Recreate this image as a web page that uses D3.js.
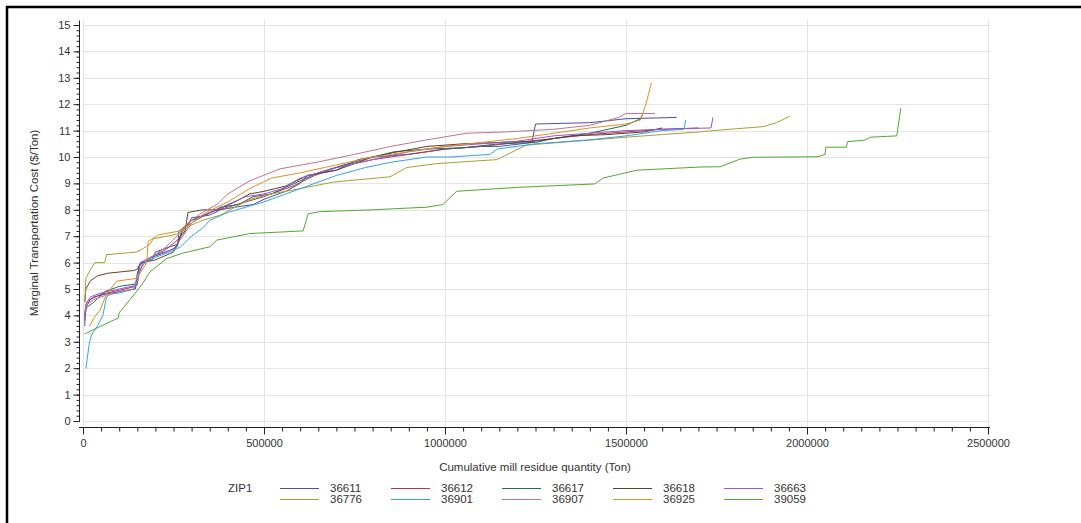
<!DOCTYPE html>
<html>
<head>
<meta charset="utf-8">
<script src="https://cdn.jsdelivr.net/npm/d3@7"></script>
<style>
  body { margin: 0; background: #fff; }
  svg text { font-family: "Liberation Sans", Arial, sans-serif; }
</style>
</head>
<body>
<div id="chart"></div>
<script>
// chart data
var zips = ["36611", "36612", "36617", "36618", "36663", "36776", "36901", "36907", "36925", "39059"];
var zipColors = ["#4a4fa8", "#ac3c48", "#1a7068", "#5e4423", "#a050dc", "#a9a030", "#35a0f0", "#c07395", "#e09020", "#52a835"];

var s36611 = [[5000,3.6],[6000,4.2],[10000,4.5],[30000,4.7],[60000,4.8],[100000,4.9],[145000,5.0],[150000,5.6],[160000,6.0],[190000,6.1],[200000,6.4],[240000,6.6],[262000,6.7],[265000,7.2],[290000,7.4],[300000,7.7],[350000,7.8],[380000,8.0],[420000,8.1],[470000,8.2],[500000,8.4],[560000,8.7],[600000,9.0],[620000,9.3],[700000,9.5],[760000,9.9],[800000,10.0],[900000,10.1],[1000000,10.3],[1100000,10.4],[1150000,10.4],[1240000,10.55],[1250000,11.25],[1400000,11.3],[1500000,11.45],[1640000,11.5]];
var s36612 = [[5000,3.8],[8000,4.3],[20000,4.6],[50000,4.8],[100000,4.95],[145000,5.1],[155000,5.7],[170000,6.0],[200000,6.3],[230000,6.5],[265000,6.9],[280000,7.3],[300000,7.6],[350000,7.9],[400000,8.1],[450000,8.3],[500000,8.5],[580000,8.9],[640000,9.3],[700000,9.6],[800000,9.9],[900000,10.1],[1000000,10.3],[1100000,10.4],[1200000,10.55],[1300000,10.7],[1400000,10.85],[1500000,10.95],[1600000,11.05],[1700000,11.1]];
var s36617 = [[5000,4.0],[10000,4.3],[30000,4.5],[60000,4.9],[100000,5.1],[150000,5.2],[155000,5.9],[190000,6.2],[230000,6.4],[260000,6.6],[275000,7.3],[300000,7.6],[340000,7.8],[380000,8.1],[430000,8.2],[470000,8.5],[520000,8.6],[600000,9.1],[650000,9.4],[720000,9.7],[800000,10.0],[860000,10.2],[950000,10.3],[1050000,10.35],[1150000,10.5],[1250000,10.55],[1300000,10.7],[1400000,10.9],[1500000,11.2],[1540000,11.45],[1545000,11.6]];
var s36618 = [[5000,4.5],[8000,5.0],[20000,5.3],[40000,5.5],[70000,5.6],[140000,5.7],[150000,5.75],[160000,6.0],[200000,6.1],[250000,6.4],[270000,7.0],[282000,7.2],[290000,7.9],[330000,8.0],[370000,8.0],[420000,8.3],[460000,8.6],[500000,8.7],[560000,8.9],[620000,9.3],[700000,9.5],[760000,9.8],[800000,10.0],[870000,10.2],[950000,10.4],[1050000,10.5],[1150000,10.55],[1250000,10.6],[1350000,10.8],[1450000,10.85],[1550000,10.95],[1600000,11.1]];
var s36663 = [[5000,4.0],[8000,4.4],[20000,4.7],[50000,4.85],[100000,5.0],[150000,5.15],[158000,6.0],[200000,6.3],[250000,6.5],[275000,7.0],[300000,7.5],[350000,7.9],[400000,8.2],[450000,8.5],[500000,8.6],[550000,8.8],[600000,9.2],[700000,9.6],[800000,9.9],[900000,10.2],[1000000,10.4],[1100000,10.5],[1200000,10.6],[1300000,10.8],[1400000,10.9],[1500000,11.0],[1600000,11.05],[1735000,11.1],[1740000,11.5]];
var s36776 = [[5000,4.5],[8000,5.4],[19000,5.7],[33000,6.0],[60000,6.0],[65000,6.3],[148000,6.4],[162000,6.5],[185000,6.7],[194000,6.9],[231000,7.0],[268000,7.1],[296000,7.4],[330000,7.6],[380000,7.8],[420000,8.1],[461000,8.4],[520000,8.6],[600000,8.8],[691000,9.05],[848000,9.25],[894000,9.6],[977000,9.75],[1143000,9.9],[1180000,10.15],[1225000,10.45],[1364000,10.6],[1500000,10.75],[1600000,10.85],[1704000,10.95],[1741000,11.0],[1879000,11.15],[1916000,11.3],[1953000,11.55]];
var s36901 = [[8000,2.0],[18000,3.0],[25000,3.3],[40000,3.6],[55000,4.0],[65000,4.7],[75000,4.8],[100000,4.85],[140000,5.0],[150000,5.5],[170000,6.0],[200000,6.2],[240000,6.4],[270000,6.6],[300000,7.0],[330000,7.3],[350000,7.6],[400000,7.9],[450000,8.1],[500000,8.3],[560000,8.6],[620000,8.9],[700000,9.3],[780000,9.6],[850000,9.8],[950000,10.0],[1014000,10.0],[1124000,10.1],[1145000,10.3],[1250000,10.5],[1400000,10.65],[1500000,10.8],[1600000,11.0],[1660000,11.05],[1665000,11.4]];
var s36907 = [[5000,4.1],[10000,4.4],[30000,4.6],[60000,4.75],[100000,4.9],[140000,5.0],[150000,5.3],[165000,6.0],[200000,6.3],[230000,6.6],[260000,7.0],[290000,7.5],[330000,7.9],[370000,8.2],[400000,8.6],[461000,9.1],[544000,9.55],[645000,9.8],[750000,10.1],[850000,10.4],[950000,10.65],[1060000,10.9],[1170000,10.95],[1300000,11.05],[1400000,11.2],[1480000,11.5],[1500000,11.65],[1580000,11.65]];
var s36925 = [[18000,3.6],[30000,3.9],[47000,4.2],[65000,4.8],[93000,5.3],[148000,5.4],[167000,5.8],[176000,6.0],[180000,6.8],[208000,7.05],[268000,7.2],[300000,7.5],[340000,7.9],[400000,8.3],[460000,8.8],[520000,9.2],[600000,9.4],[700000,9.7],[800000,10.0],[900000,10.2],[1000000,10.4],[1100000,10.55],[1200000,10.7],[1300000,10.9],[1400000,11.1],[1500000,11.25],[1540000,11.4],[1555000,12.0],[1570000,12.8]];
var s39059 = [[5000,3.3],[50000,3.6],[97500,3.9],[100000,4.1],[130000,4.6],[162000,5.15],[185000,5.65],[231000,6.15],[273000,6.35],[351000,6.6],[369000,6.85],[461000,7.1],[608000,7.2],[622000,7.85],[655000,7.93],[800000,8.0],[950000,8.1],[994000,8.2],[1032000,8.7],[1200000,8.85],[1414000,8.98],[1436000,9.2],[1530000,9.5],[1704000,9.62],[1760000,9.63],[1815000,9.92],[1851000,9.99],[2030000,10.01],[2050000,10.1],[2052000,10.37],[2109000,10.37],[2112000,10.58],[2160000,10.64],[2175000,10.75],[2248000,10.8],[2259000,11.85]];

var allSeries = [s36611, s36612, s36617, s36618, s36663, s36776, s36901, s36907, s36925, s39059];

var xTicks = [0, 500000, 1000000, 1500000, 2000000, 2500000];
var yTicks = [0, 1, 2, 3, 4, 5, 6, 7, 8, 9, 10, 11, 12, 13, 14, 15];

var svgWidth = 1081;
var svgHeight = 523;

var svg = d3.select("#chart")
    .append("svg")
    .attr("width", svgWidth)
    .attr("height", svgHeight);

// outer frame
svg.append("rect")
    .attr("x", 7)
    .attr("y", 7)
    .attr("width", svgWidth + 20)
    .attr("height", svgHeight + 20)
    .attr("fill", "none")
    .attr("stroke", "#000")
    .attr("stroke-width", 2.5);

var x = d3.scaleLinear().domain([0, 2500000]).range([83, 988]);
var y = d3.scaleLinear().domain([0, 15]).range([421, 25]);

// grid
svg.append("g").selectAll("line")
    .data(yTicks)
    .enter()
    .append("line")
    .attr("x1", 83).attr("x2", 990)
    .attr("y1", d => Math.round(y(d)) + 0.5)
    .attr("y2", d => Math.round(y(d)) + 0.5)
    .attr("stroke", "#e4e4e4");

svg.append("g").selectAll("line")
    .data(xTicks)
    .enter()
    .append("line")
    .attr("x1", d => Math.round(x(d)) + 0.5)
    .attr("x2", d => Math.round(x(d)) + 0.5)
    .attr("y1", 20).attr("y2", 427)
    .attr("stroke", "#e4e4e4");

// y axis with minor ticks
var yMinor = svg.append("g")
    .attr("transform", "translate(79.5,0)")
    .call(d3.axisLeft(y).ticks(75).tickSize(3).tickFormat(""));
yMinor.select(".domain").remove();

var yAxis = svg.append("g")
    .attr("transform", "translate(79.5,0)")
    .call(d3.axisLeft(y).tickValues(yTicks).tickSize(6).tickPadding(3).tickSizeOuter(0));
yAxis.select(".domain").attr("d", "M0,20.5V421.5");

// x axis with minor ticks
var xMinor = svg.append("g")
    .attr("transform", "translate(0,427.5)")
    .call(d3.axisBottom(x).ticks(50).tickSize(4).tickFormat(""));
xMinor.select(".domain").remove();

var xAxis = svg.append("g")
    .attr("transform", "translate(0,427.5)")
    .call(d3.axisBottom(x).tickValues(xTicks).tickSize(7).tickPadding(5).tickFormat(d3.format("d")).tickSizeOuter(0));
xAxis.select(".domain").attr("d", "M79,0H990");

svg.selectAll(".tick text")
    .attr("fill", "#333")
    .style("font-size", "11px");
svg.selectAll(".tick line").attr("stroke", "#222");
svg.selectAll(".domain").attr("stroke", "#222");

// series lines
var line = d3.line()
    .x(d => x(d[0]))
    .y(d => y(d[1]));

svg.append("g").selectAll("path")
    .data(allSeries)
    .enter()
    .append("path")
    .attr("d", line)
    .attr("fill", "none")
    .attr("stroke", (d, i) => zipColors[i])
    .attr("stroke-width", 1);

// axis titles
svg.append("text")
    .attr("transform", "translate(38,223) rotate(-90)")
    .attr("text-anchor", "middle")
    .style("font-size", "11.5px")
    .attr("fill", "#333")
    .text("Marginal Transportation Cost ($/Ton)");

svg.append("text")
    .attr("x", 535)
    .attr("y", 471)
    .attr("text-anchor", "middle")
    .style("font-size", "11.5px")
    .attr("fill", "#333")
    .text("Cumulative mill residue quantity (Ton)");

// legend
svg.append("text")
    .attr("x", 228)
    .attr("y", 492)
    .style("font-size", "11.5px")
    .attr("fill", "#333")
    .text("ZIP1");

var legend = svg.append("g").selectAll("g")
    .data(zips)
    .enter()
    .append("g")
    .attr("transform", (d, i) => `translate(${280 + (i % 5) * 111},${i < 5 ? 488 : 499})`);

legend.append("line")
    .attr("x1", 0).attr("x2", 39)
    .attr("y1", 0.5).attr("y2", 0.5)
    .attr("stroke", d => zipColors[zips.indexOf(d)]);

legend.append("text")
    .attr("x", 50)
    .attr("y", 4)
    .style("font-size", "11.5px")
    .attr("fill", "#333")
    .text(d => d);
</script>
</body>
</html>
